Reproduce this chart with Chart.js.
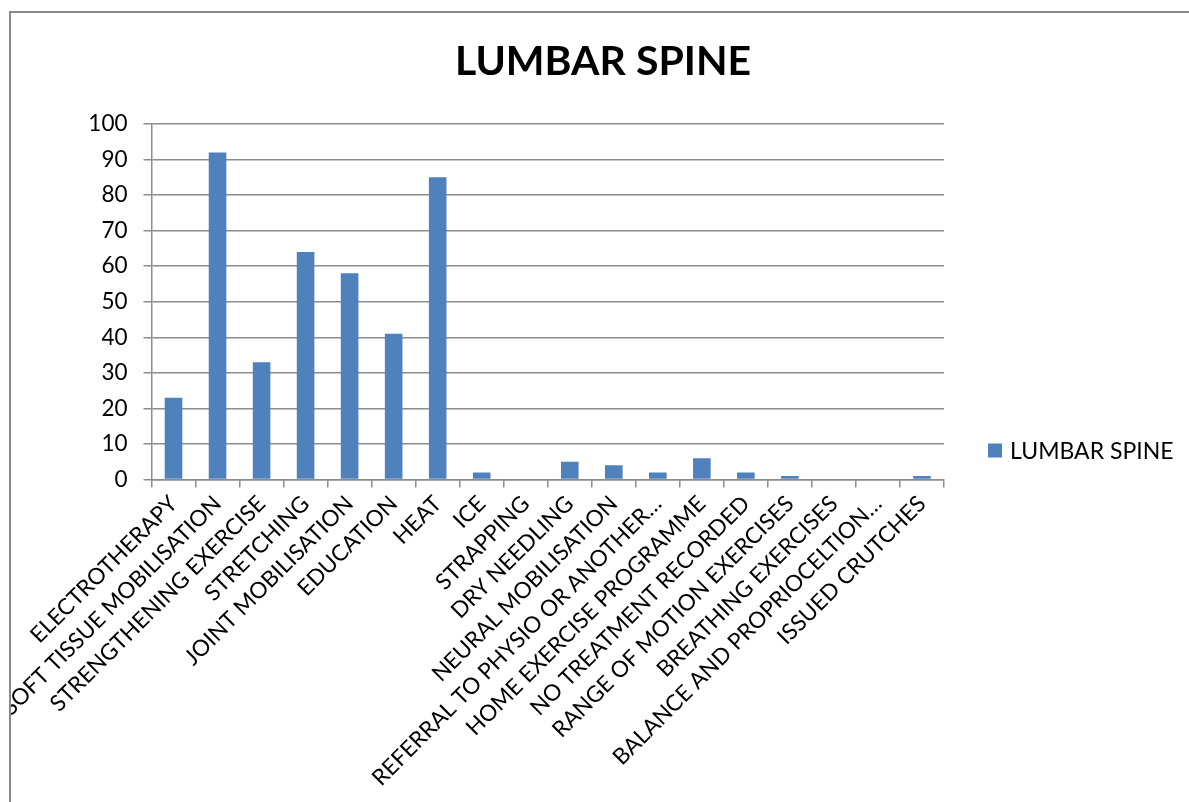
<!DOCTYPE html>
<html>
<head>
<meta charset="utf-8">
<title>Lumbar Spine</title>
<script src="https://cdn.jsdelivr.net/npm/chart.js@4.4.1/dist/chart.umd.min.js"></script>
<style>
  html, body { margin: 0; padding: 0; background: #fff; }
  #frame {
    position: absolute;
    left: 9px;
    top: 11px;
    width: 1178px;
    height: 789px;
    border-left: 2px solid #8a8a8a;
    border-top: 2px solid #8a8a8a;
  }
</style>
</head>
<body>
<div id="frame">
  <canvas id="lumbarChart" width="1178" height="789"></canvas>
</div>
<script>
const chartTitle = 'LUMBAR SPINE';
const seriesName = 'LUMBAR SPINE';

const categories = [
  'ELECTROTHERAPY',
  'SOFT TISSUE MOBILISATION',
  'STRENGTHENING EXERCISE',
  'STRETCHING',
  'JOINT MOBILISATION',
  'EDUCATION',
  'HEAT',
  'ICE',
  'STRAPPING',
  'DRY NEEDLING',
  'NEURAL MOBILISATION',
  'REFERRAL TO PHYSIO OR ANOTHER…',
  'HOME EXERCISE PROGRAMME',
  'NO TREATMENT RECORDED',
  'RANGE OF MOTION EXERCISES',
  'BREATHING EXERCISES',
  'BALANCE AND PROPRIOCELTION…',
  'ISSUED CRUTCHES'
];

const lumbarValues = [23, 92, 33, 64, 58, 41, 85, 2, 0, 5, 4, 2, 6, 2, 1, 0, 0, 1];

const yTicks = [0, 10, 20, 30, 40, 50, 60, 70, 80, 90, 100];

const barColor = '#4f81bd';
const gridColor = '#8c8c8c';
const fontFamily = 'Lato, "Open Sans", sans-serif';

// title and legend sit where Excel put them, not where Chart.js would
const excelTitleLegend = {
  id: 'excelTitleLegend',
  afterDraw(chart) {
    const c = chart.ctx;
    const area = chart.chartArea;
    c.save();
    c.fillStyle = '#000';
    c.textAlign = 'center';
    c.textBaseline = 'middle';
    c.font = 'bold 41px ' + fontFamily;
    c.fillText(chartTitle, chart.width / 2 + 3, 49);

    const ds = chart.data.datasets[0];
    const lx = area.right + 44;
    const ly = area.bottom - 29;
    c.fillStyle = ds.backgroundColor;
    c.fillRect(lx, ly - 7, 14, 14);
    c.fillStyle = '#000';
    c.textAlign = 'left';
    c.font = '23px ' + fontFamily;
    c.fillText(ds.label, lx + 22, ly + 1);
    c.restore();
  }
};

document.addEventListener('DOMContentLoaded', (event) => {
  var ctx = document.getElementById('lumbarChart').getContext('2d');
  var lumbarChart = new Chart(ctx, {
    type: 'bar',
    data: {
      labels: categories,
      datasets: [{
        label: seriesName,
        data: lumbarValues,
        backgroundColor: barColor,
        categoryPercentage: 1.0,
        barPercentage: 0.4
      }]
    },
    options: {
      responsive: false,
      animation: false,
      layout: {
        padding: { top: 111, right: 245, bottom: 0, left: 0 }
      },
      plugins: {
        legend: { display: false },
        title: { display: false },
        tooltip: { enabled: false }
      },
      scales: {
        x: {
          offset: true,
          grid: {
            offset: true,
            drawOnChartArea: false,
            color: gridColor,
            lineWidth: 1.5,
            tickLength: 8
          },
          border: { color: gridColor, width: 1.5 },
          ticks: {
            autoSkip: false,
            minRotation: 45,
            maxRotation: 45,
            padding: 3,
            labelOffset: 0,
            color: '#000',
            font: { family: fontFamily, size: 22.5 }
          },
          afterFit: (scale) => { scale.height = 322.5; }
        },
        y: {
          min: 0,
          max: 100,
          afterBuildTicks: (scale) => {
            scale.ticks = yTicks.map(v => ({ value: v }));
          },
          grid: {
            color: gridColor,
            lineWidth: 1.5,
            tickLength: 8
          },
          border: { color: gridColor, width: 1.5 },
          ticks: {
            padding: 16,
            color: '#000',
            font: { family: fontFamily, size: 22.5 }
          },
          afterFit: (scale) => { scale.width = 140.5; }
        }
      }
    },
    plugins: [excelTitleLegend]
  });
});
</script>
</body>
</html>
